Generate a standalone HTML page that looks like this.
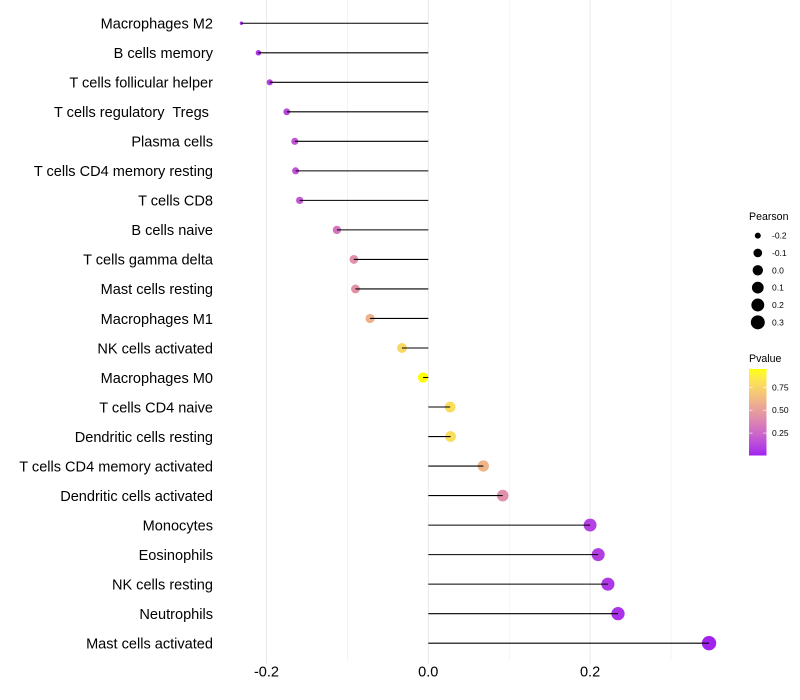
<!DOCTYPE html>
<html>
<head>
<meta charset="utf-8">
<title>Immune cell correlation lollipop chart</title>
<style>
html,body{margin:0;padding:0;background:#fff;}
svg{display:block;font-family:"Liberation Sans",sans-serif;}
text{white-space:pre;}
</style>
</head>
<body>
<svg id="chart" width="800" height="700" viewBox="0 0 800 700" xmlns="http://www.w3.org/2000/svg"></svg>
<script>
const categories = ["Macrophages M2","B cells memory","T cells follicular helper","T cells regulatory  Tregs ","Plasma cells","T cells CD4 memory resting","T cells CD8","B cells naive","T cells gamma delta","Mast cells resting","Macrophages M1","NK cells activated","Macrophages M0","T cells CD4 naive","Dendritic cells resting","T cells CD4 memory activated","Dendritic cells activated","Monocytes","Eosinophils","NK cells resting","Neutrophils","Mast cells activated"];
const pearson = [-0.231,-0.21,-0.196,-0.175,-0.165,-0.164,-0.159,-0.113,-0.092,-0.09,-0.072,-0.0325,-0.0065,0.027,0.0275,0.068,0.092,0.2,0.21,0.222,0.2345,0.347];
const pvalue = [0.03,0.06,0.09,0.13,0.17,0.17,0.19,0.31,0.43,0.44,0.58,0.76,0.95,0.79,0.79,0.6,0.43,0.1,0.09,0.07,0.05,0.01];
const majorTicks = [-0.2,0,0.2];
const minorTicks = [-0.1,0.1,0.3];
const sizeLegendValues = [-0.2,-0.1,0,0.1,0.2,0.3];
const colorLegendValues = [0.25,0.5,0.75];

const NS = "http://www.w3.org/2000/svg";
const svg = document.getElementById("chart");
function mk(tag, attrs, parent){
  const e = document.createElementNS(NS, tag);
  for (const k in attrs) e.setAttribute(k, attrs[k]);
  (parent || svg).appendChild(e);
  return e;
}
/* axis functions */
function xScale(v){ return 428.3 + v * 809; }
function yScale(i){ return 23.26 + i * 29.52; }
function sizeScale(v){
  const lo = Math.min(...pearson), hi = Math.max(...pearson);
  return 1.7 + 5.5 * Math.sqrt((v - lo) / (hi - lo));
}
/* Lab interpolation purple -> yellow */
function toLab(c){
  const f = u => { u/=255; return u>0.04045?Math.pow((u+0.055)/1.055,2.4):u/12.92; };
  const r=f(c[0]),g=f(c[1]),b=f(c[2]);
  const X=(0.4124*r+0.3576*g+0.1805*b)/0.95047,Y=0.2126*r+0.7152*g+0.0722*b,Z=(0.0193*r+0.1192*g+0.9505*b)/1.08883;
  const h=t=>t>0.008856?Math.cbrt(t):7.787*t+16/116;
  return [116*h(Y)-16,500*(h(X)-h(Y)),200*(h(Y)-h(Z))];
}
function fromLab(l){
  const fy=(l[0]+16)/116,fx=fy+l[1]/500,fz=fy-l[2]/200;
  const h=t=>t*t*t>0.008856?t*t*t:(t-16/116)/7.787;
  const X=h(fx)*0.95047,Y=h(fy),Z=h(fz)*1.08883;
  const g=u=>{u=u<=0.0031308?12.92*u:1.055*Math.pow(u,1/2.4)-0.055;return Math.max(0,Math.min(255,Math.round(u*255)));};
  return "rgb("+g(3.2406*X-1.5372*Y-0.4986*Z)+","+g(-0.9689*X+1.8758*Y+0.0415*Z)+","+g(0.0557*X-0.2040*Y+1.0570*Z)+")";
}
const labLow = toLab([160,32,240]), labHigh = toLab([255,255,0]);
const pLow = 0.005, pHigh = 0.95;
function colorScale(p){
  const t = Math.max(0, Math.min(1, (p - pLow) / (pHigh - pLow)));
  return fromLab(labLow.map((a,i)=>a+(labHigh[i]-a)*t));
}

/* gridlines */
minorTicks.forEach(function(v){
  const l = mk("line",{x1:xScale(v),x2:xScale(v),y1:0,y2:661,stroke:"#ebebeb","stroke-width":0.55});
  
  
});
majorTicks.forEach(function(v){
  const l = mk("line",{x1:xScale(v),x2:xScale(v),y1:0,y2:661,stroke:"#ebebeb","stroke-width":1.07});
  
  
  const t = mk("line",{x1:xScale(v),x2:xScale(v),y1:661,y2:664,stroke:"#e4e4e4","stroke-width":1});
  
  
  const lab = mk("text",{x:xScale(v),y:676.5,"text-anchor":"middle","font-size":14.55,fill:"#000"});
  lab.textContent = v.toFixed(1);
  
  
});

/* category labels, points, stems */
categories.forEach(function(name,i){
  const y = yScale(i);
  const lab = mk("text",{x:213,y:y+5.3,"text-anchor":"end","font-size":14.55,fill:"#000"});
  lab.textContent = name;
  
  
});
pearson.forEach(function(v,i){
  const c = mk("circle",{cx:xScale(v),cy:yScale(i),r:sizeScale(v),fill:colorScale(pvalue[i])});
  
  
});
pearson.forEach(function(v,i){
  const s = mk("line",{x1:xScale(0),x2:xScale(v),y1:yScale(i),y2:yScale(i),stroke:"#000","stroke-width":1.07});
  
  
});

/* size legend */
const sizeTitle = mk("text",{x:749,y:220,"font-size":10.6,fill:"#000"});
sizeTitle.textContent = "Pearson";


sizeLegendValues.forEach(function(v,i){
  const y = 235.6 + i * 17.35;
  const c = mk("circle",{cx:757.8,cy:y,r:sizeScale(v),fill:"#000"});
  
  
  const t = mk("text",{x:772,y:y+3,"font-size":8.5,fill:"#000"});
  t.textContent = v.toFixed(1);
  
  
});

/* colour legend */
const colorTitle = mk("text",{x:749,y:362,"font-size":10.6,fill:"#000"});
colorTitle.textContent = "Pvalue";


const defs = mk("defs",{});
const grad = mk("linearGradient",{id:"pgrad",x1:0,y1:1,x2:0,y2:0},defs);
for (let k = 0; k <= 40; k++){
  mk("stop",{offset:k/40,"stop-color":colorScale(pLow+(pHigh-pLow)*k/40)},grad);
}
const bar = mk("rect",{x:749,y:369,width:17.5,height:86.5,fill:"url(#pgrad)"});


function pBarY(p){ return 455.5 - (p - pLow) / (pHigh - pLow) * 86.5; }
colorLegendValues.forEach(function(p){
  const y = pBarY(p);
  const a = mk("line",{x1:749,x2:752.5,y1:y,y2:y,stroke:"#fff","stroke-width":0.7,"stroke-opacity":0.9});
  
  
  const b = mk("line",{x1:763,x2:766.5,y1:y,y2:y,stroke:"#fff","stroke-width":0.7,"stroke-opacity":0.9});
  
  
  const t = mk("text",{x:772,y:y+3,"font-size":8.5,fill:"#000"});
  t.textContent = p.toFixed(2);
  
  
});
</script>
</body>
</html>
